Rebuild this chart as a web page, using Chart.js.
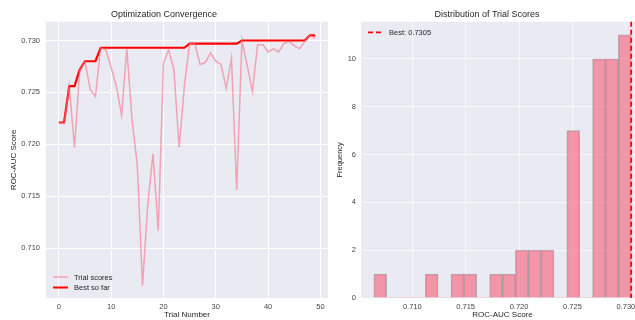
<!DOCTYPE html>
<html>
<head>
<meta charset="utf-8">
<script src="https://cdn.jsdelivr.net/npm/chart.js@4.4.0/dist/chart.umd.min.js"></script>
<style>
  html, body { margin: 0; padding: 0; background: #fff; overflow: hidden; width: 635px; height: 320px; }
  .panel { position: absolute; top: 0; }
  #wrapL { left: 0; width: 330px; height: 320px; }
  #wrapR { left: 330px; width: 314px; height: 320px; }
</style>
</head>
<body>
<div id="wrapL" class="panel"><canvas id="conv" width="330" height="320"></canvas></div>
<div id="wrapR" class="panel"><canvas id="hist" width="314" height="320"></canvas></div>
<script>
// trial scores (trial 0..49)
const trialScores = [
    0.7221, 0.7220, 0.7256, 0.7197, 0.7272, 0.7280, 0.7253, 0.7246, 0.7293, 0.7291,
    0.7274, 0.7256, 0.7228, 0.7292, 0.7223, 0.7180, 0.7064, 0.7142, 0.7191, 0.7117,
    0.7278, 0.7291, 0.7272, 0.7197, 0.7256, 0.7297, 0.7297, 0.7277, 0.7279, 0.7288,
    0.7280, 0.7277, 0.7254, 0.7283, 0.7156, 0.7300, 0.7276, 0.7251, 0.7296, 0.7296,
    0.7289, 0.7292, 0.7289, 0.7297, 0.7299, 0.7295, 0.7292, 0.7299, 0.7305, 0.7302
];
const trialNumbers = trialScores.map((_, i) => i);

// histogram counts, 20 bins between min and max score
const histCounts = [1, 0, 0, 0, 1, 0, 1, 1, 0, 1, 1, 2, 2, 2, 0, 7, 0, 10, 10, 11];

const convXTicks = [0, 10, 20, 30, 40, 50];
const convYTicks = [0.710, 0.715, 0.720, 0.725, 0.730];
const histXTicks = [0.710, 0.715, 0.720, 0.725, 0.730];
const histYTicks = [0, 2, 4, 6, 8, 10];

const FONT = "'Liberation Sans', Arial, sans-serif";
const TEXT = '#262626';
const PINK = 'rgba(247,113,137,0.6)';
const BAR_PINK = 'rgba(247,113,137,0.7)';
const RED = '#ff0000';

// running best
let best = -Infinity;
const bestSoFar = trialScores.map(v => (best = Math.max(best, v)));
const bestScore = Math.max(...trialScores);

const minScore = Math.min(...trialScores);
const binWidth = (bestScore - minScore) / histCounts.length;
const binCenters = histCounts.map((_, i) => minScore + (i + 0.5) * binWidth);

Chart.defaults.font.family = FONT;
Chart.defaults.color = TEXT;

const bgPlugin = {
    id: 'bg',
    beforeDraw(chart) {
        const a = chart.chartArea;
        const ctx = chart.ctx;
        ctx.save();
        ctx.fillStyle = '#eaeaf2';
        ctx.fillRect(a.left, a.top, a.right - a.left, a.bottom - a.top);
        ctx.restore();
    }
};

const fixedTicks = vals => scale => { scale.ticks = vals.map(v => ({ value: v })); };

// legend drawn inside the plot, lower left
const convLegend = {
    id: 'convLegend',
    afterDraw(chart) {
        const a = chart.chartArea;
        const ctx = chart.ctx;
        const rows = [
            { text: 'Trial scores', color: PINK, width: 1.5, y: a.bottom - 21 },
            { text: 'Best so far', color: RED, width: 2, y: a.bottom - 10.5 }
        ];
        ctx.save();
        ctx.font = '7.5px ' + FONT;
        ctx.textBaseline = 'middle';
        rows.forEach(r => {
            ctx.strokeStyle = r.color;
            ctx.lineWidth = r.width;
            ctx.beginPath();
            ctx.moveTo(a.left + 7, r.y);
            ctx.lineTo(a.left + 22, r.y);
            ctx.stroke();
            ctx.fillStyle = TEXT;
            ctx.fillText(r.text, a.left + 28, r.y + 0.5);
        });
        ctx.restore();
    }
};

new Chart(document.getElementById('conv'), {
    type: 'line',
    data: {
        datasets: [
            {
                label: 'Trial scores',
                data: trialNumbers.map((t, i) => ({ x: t, y: trialScores[i] })),
                borderColor: PINK,
                borderWidth: 1.5,
                pointRadius: 0,
                tension: 0
            },
            {
                label: 'Best so far',
                data: trialNumbers.map((t, i) => ({ x: t, y: bestSoFar[i] })),
                borderColor: RED,
                borderWidth: 2.2,
                pointRadius: 0,
                tension: 0
            }
        ]
    },
    options: {
        responsive: false,
        animation: false,
        events: [],
        layout: { padding: { left: 0, right: 2, top: 0, bottom: 0 } },
        plugins: {
            legend: { display: false },
            tooltip: { enabled: false },
            title: {
                display: true,
                text: 'Optimization Convergence',
                color: TEXT,
                font: { size: 9, weight: 'normal' },
                padding: { top: 9, bottom: 2 }
            }
        },
        scales: {
            x: {
                type: 'linear',
                min: -2.45,
                max: 51.45,
                afterBuildTicks: fixedTicks(convXTicks),
                afterFit: s => { s.height = 22; },
                grid: { color: '#ffffff', lineWidth: 1, drawTicks: false },
                border: { display: false },
                ticks: { font: { size: 7.5 }, color: '#444', padding: 4, autoSkip: false, maxRotation: 0 },
                title: { display: true, text: 'Trial Number', font: { size: 8 }, color: TEXT, padding: { top: 0, bottom: 0 } }
            },
            y: {
                min: 0.7052,
                max: 0.7318,
                afterBuildTicks: fixedTicks(convYTicks),
                afterFit: s => { s.width = 46; },
                grid: { color: '#ffffff', lineWidth: 1, drawTicks: false },
                border: { display: false },
                ticks: { font: { size: 7.5 }, color: '#444', padding: 6, callback: v => v.toFixed(3) },
                title: { display: true, text: 'ROC-AUC Score', font: { size: 8 }, color: TEXT, padding: { top: 9, bottom: 0 } }
            }
        }
    },
    plugins: [bgPlugin, convLegend]
});

// dashed best line + its legend
const bestLine = {
    id: 'bestLine',
    afterDatasetsDraw(chart) {
        const a = chart.chartArea;
        const ctx = chart.ctx;
        const x = chart.scales.x.getPixelForValue(bestScore);
        ctx.save();
        ctx.strokeStyle = RED;
        ctx.lineWidth = 1.8;
        ctx.setLineDash([5, 3]);
        ctx.beginPath();
        ctx.moveTo(x, a.top);
        ctx.lineTo(x, a.bottom);
        ctx.stroke();
        const ly = a.top + 10.5;
        ctx.beginPath();
        ctx.moveTo(a.left + 7, ly);
        ctx.lineTo(a.left + 21, ly);
        ctx.stroke();
        ctx.setLineDash([]);
        ctx.font = '7.5px ' + FONT;
        ctx.textBaseline = 'middle';
        ctx.fillStyle = TEXT;
        ctx.fillText('Best: ' + bestScore.toFixed(4), a.left + 28, ly + 0.5);
        ctx.restore();
    }
};

new Chart(document.getElementById('hist'), {
    type: 'bar',
    data: {
        datasets: [{
            label: 'Trials',
            data: binCenters.map((c, i) => ({ x: c, y: histCounts[i] })),
            backgroundColor: BAR_PINK,
            borderColor: 'rgba(60,30,40,0.3)',
            borderWidth: c => (c.raw && c.raw.y ? 1 : 0),
            barPercentage: 1,
            categoryPercentage: 1
        }]
    },
    options: {
        responsive: false,
        animation: false,
        events: [],
        layout: { padding: { left: 0, right: 0, top: 0, bottom: 0 } },
        plugins: {
            legend: { display: false },
            tooltip: { enabled: false },
            title: {
                display: true,
                text: 'Distribution of Trial Scores',
                color: TEXT,
                font: { size: 9, weight: 'normal' },
                padding: { top: 9, bottom: 2 }
            }
        },
        scales: {
            x: {
                type: 'linear',
                offset: false,
                min: 0.7052,
                max: 0.7317,
                afterBuildTicks: fixedTicks(histXTicks),
                afterFit: s => { s.height = 22; },
                grid: { color: 'rgba(255,255,255,0.6)', lineWidth: 1, drawTicks: false, offset: false },
                border: { display: false },
                ticks: { font: { size: 7.5 }, color: '#444', padding: 4, autoSkip: false, maxRotation: 0, callback: v => v.toFixed(3) },
                title: { display: true, text: 'ROC-AUC Score', font: { size: 8 }, color: TEXT, padding: { top: 0, bottom: 0 } }
            },
            y: {
                min: 0,
                max: 11.55,
                afterBuildTicks: fixedTicks(histYTicks),
                afterFit: s => { s.width = 31; },
                grid: { color: 'rgba(255,255,255,0.6)', lineWidth: 1, drawTicks: false },
                border: { display: false },
                ticks: { font: { size: 7.5 }, color: '#444', padding: 5 },
                title: { display: true, text: 'Frequency', font: { size: 7.5 }, color: TEXT, padding: { top: 5, bottom: 0 } }
            }
        }
    },
    plugins: [bgPlugin, bestLine]
});
</script>
</body>
</html>
